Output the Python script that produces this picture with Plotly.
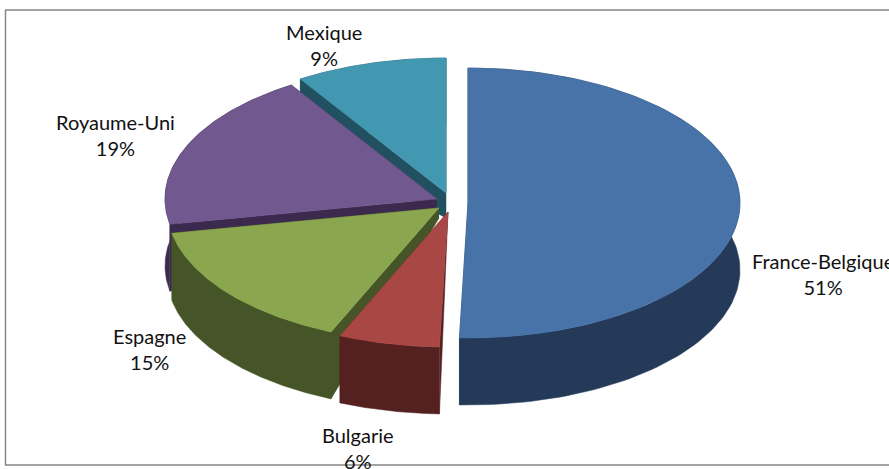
import numpy as np
import plotly.graph_objects as go

categories = ["France-Belgique", "Bulgarie", "Espagne", "Royaume-Uni", "Mexique"]
shares = [50.5, 6.0, 15.5, 19.0, 9.0]
percent_labels = ["51%", "6%", "15%", "19%", "9%"]
top_colors = ["#4773A8", "#A94744", "#8AA64E", "#71588F", "#4298B0"]
side_colors = ["#243A58", "#552120", "#465527", "#3C2A4E", "#215060"]

W, H = 889, 469
RX, RY, DEPTH = 272, 135, 67
# apex of each exploded slice, in page pixels
APEX_X = [468, 448, 439, 437, 446]
APEX_Y = [203, 212, 208, 199, 193]
# share of the depth applied at the apex of the cut faces
APEX_DROP = [0, 0, 0.15, 0.12, 0.37]
# share of the depth applied at the outer corner of the closing cut face
END_CORNER_DROP = [1, 1, 1, 0.12, 1]
LABEL_X = [823, 358, 149, 115, 324]
LABEL_Y = [274, 448, 349, 135, 45]
DRAW_ORDER = [4, 3, 0, 2, 1]

starts = np.cumsum([0] + shares[:-1]) * 3.6
ends = np.cumsum(shares) * 3.6

fig = go.Figure()


def poly(xs, ys, color):
    fig.add_trace(go.Scatter(x=list(xs), y=list(ys), mode="lines", fill="toself",
                             fillcolor=color, line=dict(color=color, width=0.5),
                             hoverinfo="skip", showlegend=False))


for i in DRAW_ORDER:
    t = np.radians(np.linspace(starts[i], ends[i], 120))
    ax, ay = APEX_X[i], APEX_Y[i]
    ex = ax + RX * np.sin(t)
    ey = ay - RY * np.cos(t)
    drop = DEPTH * APEX_DROP[i]
    # outer wall
    poly(np.r_[ex, ex[::-1]], np.r_[ey, ey[::-1] + DEPTH], side_colors[i])
    # cut faces
    poly([ax, ex[0], ex[0], ax], [ay, ey[0], ey[0] + DEPTH, ay + drop], side_colors[i])
    poly([ax, ex[-1], ex[-1], ax], [ay, ey[-1], ey[-1] + DEPTH * END_CORNER_DROP[i], ay + drop], side_colors[i])
    # top face
    poly(np.r_[ax, ex, ax], np.r_[ay, ey, ay], top_colors[i])

for i, name in enumerate(categories):
    fig.add_annotation(x=LABEL_X[i], y=LABEL_Y[i], text=f"{name}<br>{percent_labels[i]}",
                       showarrow=False, xanchor="center", yanchor="middle",
                       font=dict(family="Lato", size=20, color="#111111"))

fig.add_shape(type="line", x0=5.5, x1=5.5, y0=10, y1=465, line=dict(color="#868686", width=1.5))
fig.add_shape(type="line", x0=5, x1=889, y0=10, y1=10, line=dict(color="#868686", width=1.5))
fig.add_shape(type="line", x0=5, x1=889, y0=465, y1=465, line=dict(color="#868686", width=1.5))

fig.update_layout(width=W, height=H, margin=dict(l=0, r=0, t=0, b=0),
                  paper_bgcolor="white", plot_bgcolor="white", showlegend=False,
                  xaxis=dict(range=[0, W], visible=False, fixedrange=True),
                  yaxis=dict(range=[H, 0], visible=False, fixedrange=True))
fig.write_html("out.html", config=dict(displayModeBar=False),
               post_script="document.body.style.margin='0';document.documentElement.style.overflow='hidden';")
